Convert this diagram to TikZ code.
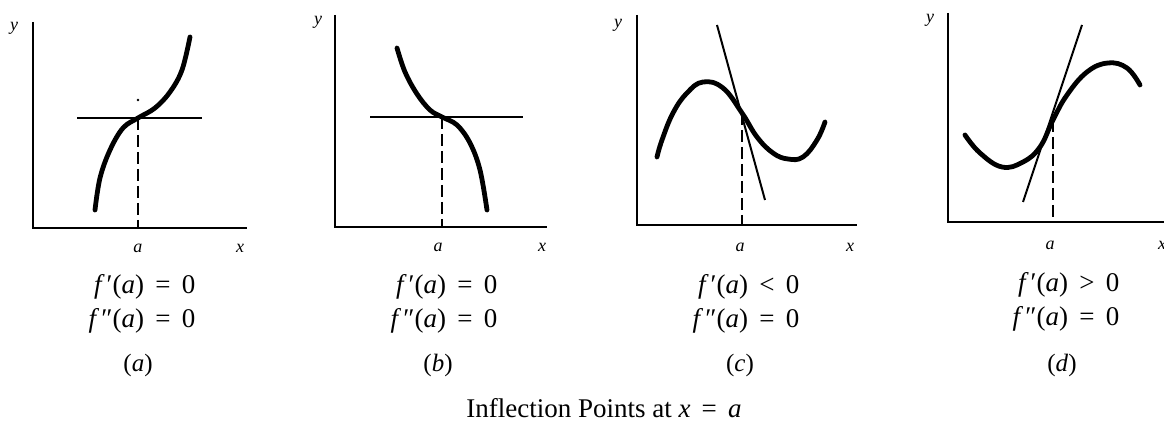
\documentclass[tikz,border=0pt]{standalone}
\usepackage{fontspec}
\setmainfont{Liberation Serif}
\usetikzlibrary{positioning}

\begin{document}
\begin{tikzpicture}[
  x=0.5pt, y=-0.5pt,
  axis/.style={line width=1.4pt},
  graph/.style={line width=2.4pt, line cap=round},
  tangent/.style={line width=1pt},
  drop/.style={line width=1.2pt, dash pattern=on 6pt off 2.5pt},
  lbl/.style={font=\fontsize{9}{10}\selectfont\itshape, inner sep=0pt},
  cond/.style={font=\fontsize{13.5}{17}\selectfont, align=right, inner sep=0pt},
  tag/.style={font=\fontsize{12.5}{14}\selectfont, inner sep=0pt}
]
\useasboundingbox (0,0) rectangle (1164,421);

\coordinate (oA) at (33,228);
\coordinate (iA) at (138,118);
\draw[axis] (33,22) -- (oA) -- (247,228);
\draw[tangent] (77,118) -- (202,118);
\draw[drop] (iA) -- (iA |- oA);
\draw[graph] plot[smooth, tension=0.6] coordinates {(95,210) (100,178) (110,150)
  (123,128) (138,118) (155,108) (170,92) (182,70) (190,37)};
\fill (138,100) circle[radius=0.7pt];
\node[lbl] (yA) at (14,28) {y};
\node[lbl] (aA) at (138,248) {a};
\node[lbl] (xA) at (240,248) {x};
\node[cond] (cA) at (142,304) {\textit{f}\kern1pt′(\textit{a}) \,=\, 0\\\textit{f}\kern1pt″(\textit{a}) \,=\, 0};
\node[tag] (tA) at (138,365) {(\textit{a})};

\coordinate (oB) at (335,227);
\coordinate (iB) at (442,117);
\draw[axis] (335,15) -- (oB) -- (547,227);
\draw[tangent] (370,117) -- (523,117);
\draw[drop] (iB) -- (iB |- oB);
\draw[graph] plot[smooth, tension=0.6] coordinates {(397,48) (405,72) (417,94)
  (430,110) (442,117) (457,125) (470,143) (480,170) (487,210)};
\node[lbl] (yB) at (318,22) {y};
\node[lbl] (aB) at (438,247) {a};
\node[lbl] (xB) at (542,247) {x};
\node[cond] (cB) at (444,304) {\textit{f}\kern1pt′(\textit{a}) \,=\, 0\\\textit{f}\kern1pt″(\textit{a}) \,=\, 0};
\node[tag] (tB) at (438,365) {(\textit{b})};

\coordinate (oC) at (637,225);
\coordinate (iC) at (742,113);
\draw[axis] (637,15) -- (oC) -- (857,225);
\draw[tangent] (717,25) -- (765,200);
\draw[drop] (iC) -- (iC |- oC);
\draw[graph] plot[smooth, tension=0.7] coordinates {(657,157) (662,140) (673,113)
  (687,93) (703,82) (723,88) (742,113) (757,137) (773,153) (788,159) (803,157)
  (817,140) (825,122)};
\node[lbl] (yC) at (618,25) {y};
\node[lbl] (aC) at (740,247) {a};
\node[lbl] (xC) at (850,247) {x};
\node[cond] (cC) at (746,304) {\textit{f}\kern1pt′(\textit{a}) \,<\, 0\\\textit{f}\kern1pt″(\textit{a}) \,=\, 0};
\node[tag] (tC) at (740,365) {(\textit{c})};

\coordinate (oD) at (948,222);
\coordinate (iD) at (1053,120);
\draw[axis] (948,13) -- (oD) -- (1170,222);
\draw[tangent] (1023,202) -- (1082,25);
\draw[drop] (iD) -- (iD |- oD);
\draw[graph] plot[smooth, tension=0.7] coordinates {(965,135) (980,153) (1002,167)
  (1023,162) (1040,147) (1053,120) (1067,95) (1087,72) (1108,63) (1127,68)
  (1140,85)};
\node[lbl] (yD) at (930,20) {y};
\node[lbl] (aD) at (1050,245) {a};
\node[lbl] (xD) at (1162,245) {x};
\node[cond] (cD) at (1066,302) {\textit{f}\kern1pt′(\textit{a}) \,>\, 0\\\textit{f}\kern1pt″(\textit{a}) \,=\, 0};
\node[tag] (tD) at (1062,365) {(\textit{d})};

\node[font=\fontsize{13.5}{16}\selectfont, inner sep=0pt] (cap) at (604,408) {Inflection Points at \textit{x} \,=\, \textit{a}};
\end{tikzpicture}
\end{document}
